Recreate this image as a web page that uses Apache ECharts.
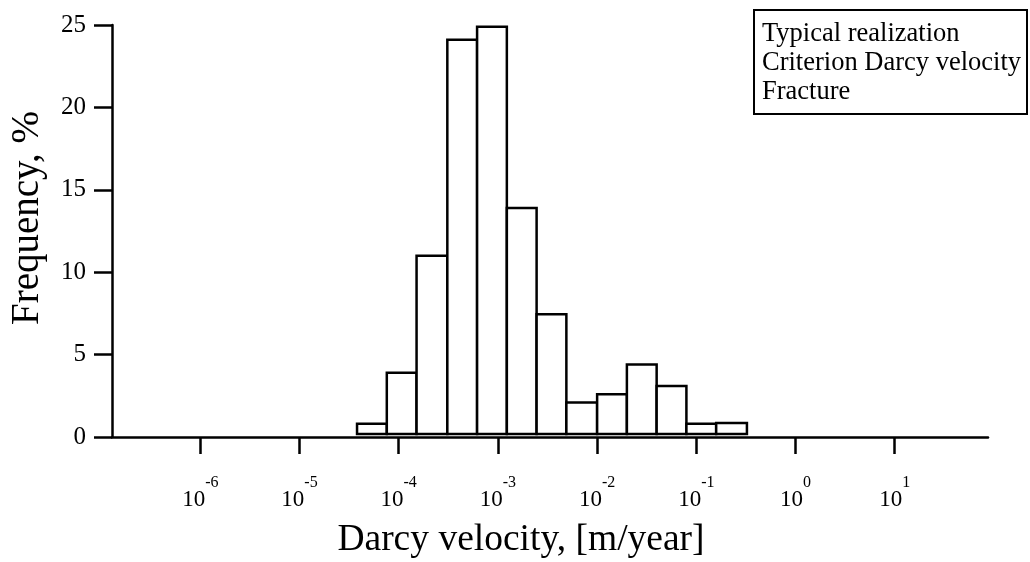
<!DOCTYPE html>
<html><head><meta charset="utf-8">
<script src="https://cdn.jsdelivr.net/npm/echarts@6/dist/echarts.min.js"></script>
<style>html,body{margin:0;padding:0;background:#fff}#c{width:1030px;height:562px}</style>
</head><body><div id="c"></div>
<script>
// Histogram bin edges, in log10 of Darcy velocity [m/year]
const binEdgesLog = [-4.42, -4.12, -3.82, -3.51, -3.21, -2.91, -2.61, -2.31, -2.00, -1.70, -1.40, -1.10, -0.80, -0.49];
// Frequency (%) per bin
const frequency = [0.8, 3.9, 11.0, 24.1, 24.9, 13.9, 7.45, 2.1, 2.6, 4.4, 3.1, 0.8, 0.85];
// Decade tick exponents on the x axis
const xTickExponents = [-6, -5, -4, -3, -2, -1, 0, 1];
const yTicks = [0, 5, 10, 15, 20, 25];
const legendLines = ['Typical realization', 'Criterion Darcy velocity', 'Fracture'];
const xTitle = 'Darcy velocity, [m/year]';
const yTitle = 'Frequency, %';

const data = frequency.map((v, i) => [binEdgesLog[i], binEdgesLog[i + 1], v]);
const FONT = '"Liberation Serif", "Times New Roman", serif';

const chart = echarts.init(document.getElementById('c'), null, { renderer: 'canvas' });
chart.setOption({
  animation: false,
  backgroundColor: '#fff',
  grid: { left: 112, right: 42, top: 25, bottom: 125, containLabel: false },
  xAxis: {
    type: 'value', min: -6.89, max: 1.94,
    axisLine: { show: true, onZero: false, lineStyle: { color: '#000', width: 2.5 } },
    axisTick: { show: true, customValues: xTickExponents, length: 17, lineStyle: { color: '#000', width: 2.5 } },
    axisLabel: {
      customValues: xTickExponents, margin: 38, color: '#000',
      formatter: v => '{b|10}{s|' + v + '}',
      rich: {
        b: { fontFamily: FONT, fontSize: 23, color: '#000', lineHeight: 36, verticalAlign: 'bottom' },
        s: { fontFamily: FONT, fontSize: 16, color: '#000', lineHeight: 16, verticalAlign: 'top' }
      }
    },
    splitLine: { show: false }
  },
  yAxis: {
    type: 'value', min: 0, max: 25, interval: 5,
    axisLine: { show: true, onZero: false, lineStyle: { color: '#000', width: 2.5 } },
    axisTick: { show: true, length: 18, lineStyle: { color: '#000', width: 2.5 } },
    axisLabel: { margin: 26, color: '#000', fontFamily: FONT, fontSize: 25,
      formatter: v => yTicks.indexOf(v) >= 0 ? String(v) : '' },
    splitLine: { show: false }
  },
  series: [{
    type: 'custom',
    data: data,
    encode: { x: [0, 1], y: 2 },
    renderItem: (params, api) => {
      const p0 = api.coord([api.value(0), 0]);
      const p1 = api.coord([api.value(1), api.value(2)]);
      return {
        type: 'rect',
        shape: { x: p0[0], y: p1[1], width: p1[0] - p0[0], height: p0[1] - p1[1] - 3 },
        style: { fill: '#fff', stroke: '#000', lineWidth: 2.5 }
      };
    }
  }],
  graphic: [
    { type: 'text', x: 521, y: 540, style: { text: xTitle, font: '37.5px ' + FONT, fill: '#000', textAlign: 'center', textVerticalAlign: 'middle' } },
    { type: 'text', x: 28, y: 218, rotation: Math.PI / 2, style: { text: yTitle, font: '39px ' + FONT, fill: '#000', textAlign: 'center', textVerticalAlign: 'middle' } },
    { type: 'rect', shape: { x: 754, y: 10, width: 273, height: 104 }, style: { fill: '#fff', stroke: '#000', lineWidth: 2 } },
    { type: 'text', x: 762, y: 34, style: { text: legendLines[0], font: '26.5px ' + FONT, fill: '#000', textAlign: 'left', textVerticalAlign: 'middle' } },
    { type: 'text', x: 762, y: 63, style: { text: legendLines[1], font: '26.5px ' + FONT, fill: '#000', textAlign: 'left', textVerticalAlign: 'middle' } },
    { type: 'text', x: 762, y: 92, style: { text: legendLines[2], font: '26.5px ' + FONT, fill: '#000', textAlign: 'left', textVerticalAlign: 'middle' } }
  ]
});
</script></body></html>
